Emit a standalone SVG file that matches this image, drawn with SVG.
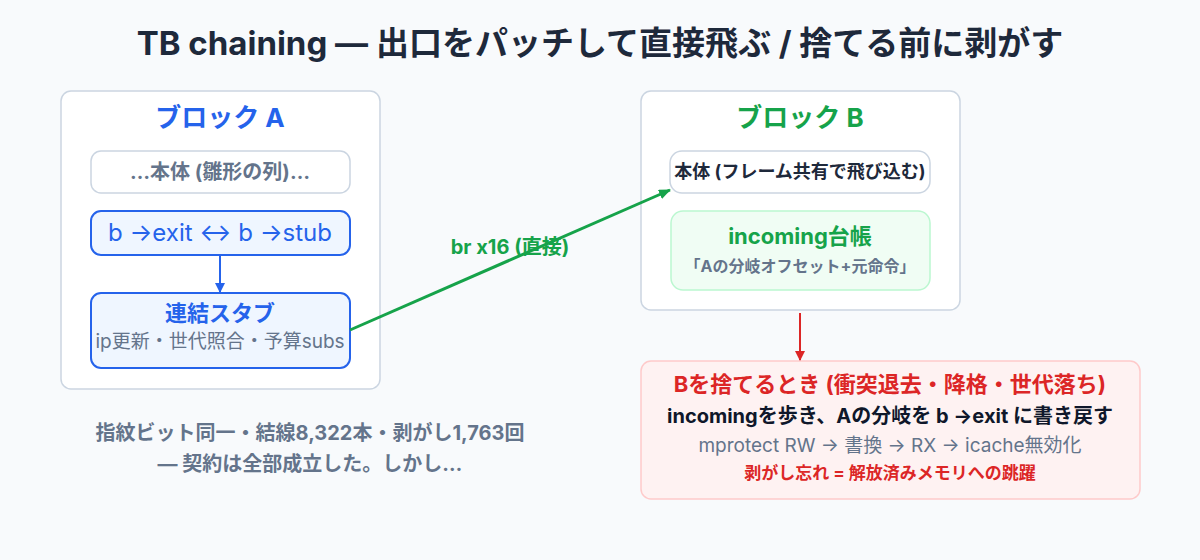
<svg xmlns="http://www.w3.org/2000/svg" width="1200" height="560" viewBox="0 0 1200 560">
<style>
text{font-family:Inter,"Noto Sans CJK JP",sans-serif;text-anchor:middle}
.b{font-weight:bold}
.panel{fill:#fff;stroke:#cbd5e1;stroke-width:1.5}
.blue{fill:#eff6ff;stroke:#2563eb;stroke-width:2}
</style>
<defs>
<marker id="ab" markerWidth="10" markerHeight="10" refX="9" refY="5" orient="auto" markerUnits="userSpaceOnUse"><path d="M0,0L10,5L0,10z" fill="#2563eb"/></marker>
<marker id="ag" markerWidth="12" markerHeight="10" refX="11" refY="5" orient="auto" markerUnits="userSpaceOnUse"><path d="M0,0L12,5L0,10z" fill="#16a34a"/></marker>
<marker id="ar" markerWidth="10" markerHeight="10" refX="9" refY="5" orient="auto" markerUnits="userSpaceOnUse"><path d="M0,0L10,5L0,10z" fill="#dc2626"/></marker>
</defs>
<rect width="1200" height="560" fill="#f8fafc"/>
<text x="600" y="55" class="b" font-size="33" fill="#1e293b">TB chaining — 出口をパッチして直接飛ぶ / 捨てる前に剥がす</text>
<g id="blockA">
<rect x="61" y="91" width="319" height="298" rx="10" class="panel"/>
<text x="220" y="127" class="b" font-size="26" fill="#2563eb">ブロック A</text>
</g>
<g id="bodyA">
<rect x="91" y="151" width="259" height="42" rx="10" fill="#fff" stroke="#cbd5e1" stroke-width="1.5"/>
<text x="220" y="179" class="b" font-size="20" fill="#64748b">…本体 (雛形の列)…</text>
</g>
<g id="exitA">
<rect x="91" y="211" width="259" height="44" rx="10" class="blue"/>
<text x="220" y="241" font-size="24" fill="#2563eb">b →exit  ↔  b →stub</text>
</g>
<g id="stub">
<rect x="91" y="293" width="259" height="75" rx="10" class="blue"/>
<text x="220" y="321" class="b" font-size="22" fill="#2563eb">連結スタブ</text>
<text x="220" y="348" font-size="19" fill="#64748b">ip更新・世代照合・予算subs</text>
</g>
<g id="captionA">
<text x="310" y="440" class="b" font-size="20" fill="#64748b">指紋ビット同一・結線8,322本・剥がし1,763回</text>
<text x="310" y="471" class="b" font-size="20" fill="#64748b">— 契約は全部成立した。しかし…</text>
</g>
<g id="blockB">
<rect x="641" y="91" width="319" height="219" rx="10" class="panel"/>
<text x="800" y="127" class="b" font-size="26" fill="#16a34a">ブロック B</text>
</g>
<g id="bodyB">
<rect x="670" y="151" width="260" height="42" rx="12" fill="#fff" stroke="#cbd5e1" stroke-width="1.5"/>
<text x="800" y="178" class="b" font-size="18" fill="#1e293b">本体 (フレーム共有で飛び込む)</text>
</g>
<g id="incoming">
<rect x="671" y="211" width="259" height="79" rx="12" fill="#f0fdf4" stroke="#bbf7d0" stroke-width="1.5"/>
<text x="800" y="244" class="b" font-size="22" fill="#16a34a">incoming台帳</text>
<text x="800" y="272" class="b" font-size="16" fill="#64748b">｢Aの分岐オフセット+元命令｣</text>
</g>
<g id="discard">
<rect x="641" y="361" width="499" height="138" rx="10" fill="#fef2f2" stroke="#fecaca" stroke-width="1.5"/>
<text x="890" y="392" class="b" font-size="22" fill="#dc2626">Bを捨てるとき (衝突退去・降格・世代落ち)</text>
<text x="890" y="423" class="b" font-size="20" fill="#0f172a">incomingを歩き、Aの分岐を b →exit に書き戻す</text>
<text x="890" y="452" font-size="19" fill="#64748b">mprotect RW → 書換 → RX → icache無効化</text>
<text x="890" y="479" class="b" font-size="17" fill="#dc2626">剥がし忘れ = 解放済みメモリへの跳躍</text>
</g>
<g id="connectors">
<line x1="220" y1="255" x2="220" y2="292" stroke="#2563eb" stroke-width="2" marker-end="url(#ab)"/>
<line x1="350" y1="330" x2="670" y2="190" stroke="#16a34a" stroke-width="3" marker-end="url(#ag)"/>
<text x="510" y="254" class="b" font-size="20" fill="#16a34a">br x16 (直接)</text>
<line x1="800" y1="313" x2="800" y2="360" stroke="#dc2626" stroke-width="2" marker-end="url(#ar)"/>
</g>
</svg>
